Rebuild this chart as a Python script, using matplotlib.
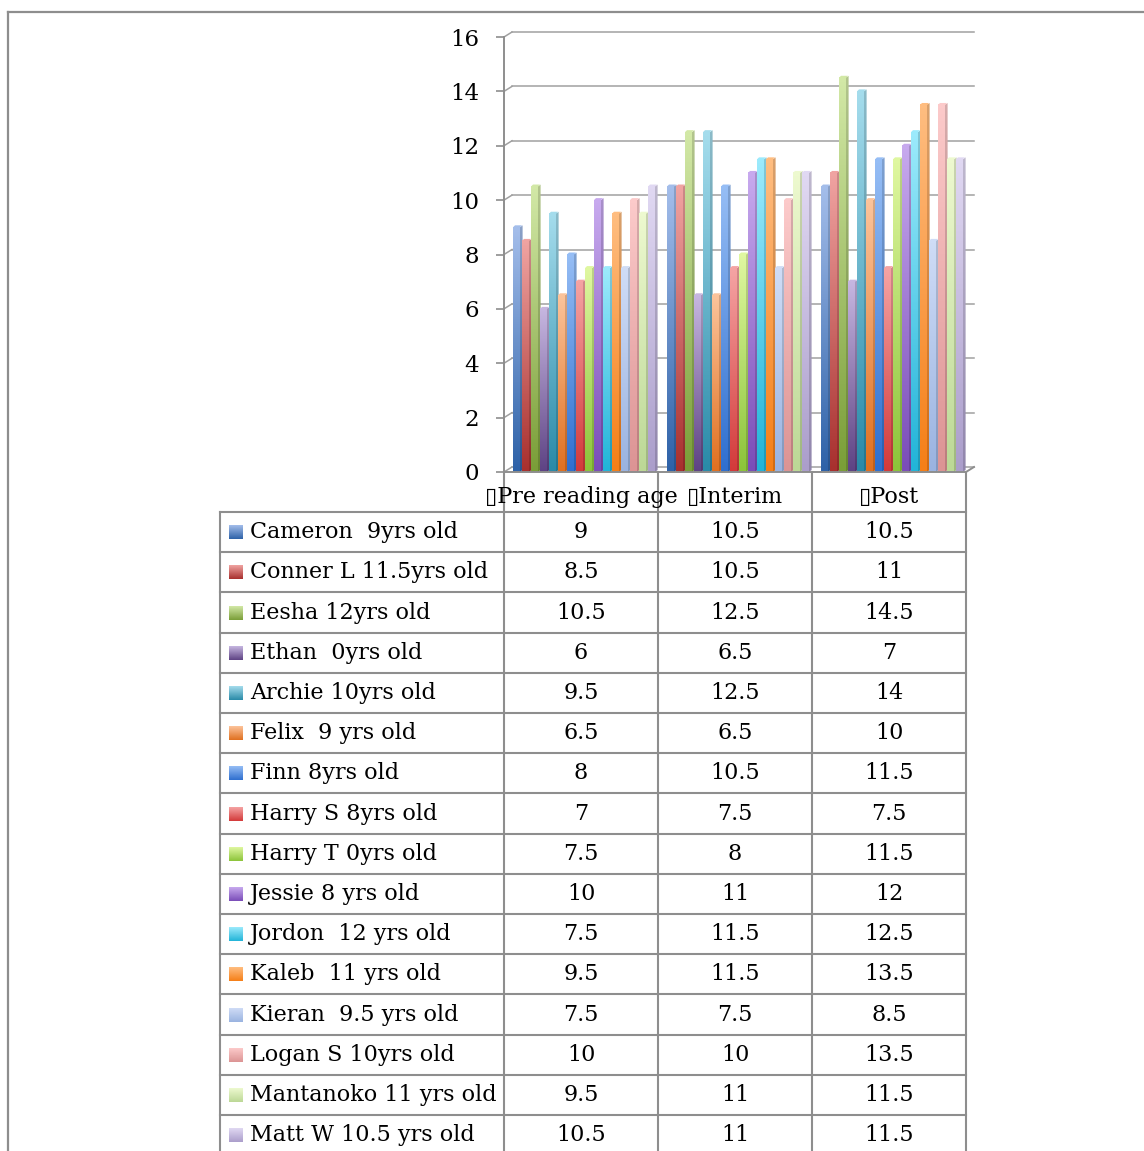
import matplotlib.pyplot as plt
import numpy as np
from matplotlib.colors import LinearSegmentedColormap
from matplotlib.patches import Polygon

plt.rcParams['font.family'] = ['DejaVu Serif', 'DejaVu Sans']

categories = ['Pre reading age', 'Interim', 'Post']
students = ['Cameron  9yrs old', 'Conner L 11.5yrs old', 'Eesha 12yrs old',
            'Ethan  0yrs old', 'Archie 10yrs old', 'Felix  9 yrs old',
            'Finn 8yrs old', 'Harry S 8yrs old', 'Harry T 0yrs old',
            'Jessie 8 yrs old', 'Jordon  12 yrs old', 'Kaleb  11 yrs old',
            'Kieran  9.5 yrs old', 'Logan S 10yrs old', 'Mantanoko 11 yrs old',
            'Matt W 10.5 yrs old']
pre = [9, 8.5, 10.5, 6, 9.5, 6.5, 8, 7, 7.5, 10, 7.5, 9.5, 7.5, 10, 9.5, 10.5]
interim = [10.5, 10.5, 12.5, 6.5, 12.5, 6.5, 10.5, 7.5, 8, 11, 11.5, 11.5, 7.5, 10, 11, 11]
post = [10.5, 11, 14.5, 7, 14, 10, 11.5, 7.5, 11.5, 12, 12.5, 13.5, 8.5, 13.5, 11.5, 11.5]
y_ticks = [0, 2, 4, 6, 8, 10, 12, 14, 16]

# (top, bottom) gradient colours per series
colors = [('#a3bdea', '#2e62a8'), ('#f0a3a1', '#a8302e'), ('#d2e8a6', '#7a9e38'),
          ('#c6b6e0', '#5e4384'), ('#a4dcec', '#2a8aa8'), ('#fcc39a', '#e07020'),
          ('#95bdf5', '#2f6fcf'), ('#f5a3a3', '#d33a3a'), ('#dff7a0', '#8cc43a'),
          ('#c7a9ee', '#7a4db8'), ('#9beafc', '#22b4d8'), ('#ffbd80', '#f57f17'),
          ('#cfdcf6', '#9ab3e0'), ('#fccaca', '#dc9494'), ('#edf9cf', '#bcd896'),
          ('#e0d8f2', '#ab9ecb')]

values = np.array([pre, interim, post])  # shape (3, 16)

W, H = 1144, 1151
fig = plt.figure(figsize=(W / 100, H / 100), dpi=100)
fs = 16

# overlay in pixel coords for frame and data table
tab = fig.add_axes([0, 0, 1, 1], zorder=0)
tab.set_xlim(0, W)
tab.set_ylim(H, 0)
tab.axis('off')

grey = '#8e8e8e'
# outer frame
tab.plot([8, W], [12, 12], color=grey, lw=1.6)
tab.plot([8, 8], [12, H], color=grey, lw=1.6)

# main plot, front plane
x0_px, x1_px, y0_px, y1_px = 504, 966, 472, 37
ax = fig.add_axes([x0_px / W, 1 - y0_px / H, (x1_px - x0_px) / W, (y0_px - y1_px) / H], zorder=2)
ax.patch.set_visible(False)
px_x = 3 / (x1_px - x0_px)       # data units per pixel, x
px_y = 16 / (y0_px - y1_px)      # data units per pixel, y

wall_dx, wall_dy = 8 * px_x, 5 * px_y
grid_c = '#a0a0a0'
for v in y_ticks:
    ax.plot([0, wall_dx], [v, v + wall_dy], color=grid_c, lw=1.1, zorder=1, clip_on=False)
    ax.plot([wall_dx, 3 + wall_dx], [v + wall_dy, v + wall_dy], color=grid_c, lw=1.1,
            zorder=1, clip_on=False)
# floor front edge and right corner
ax.plot([0, 3], [0, 0], color=grey, lw=1.4, zorder=5, clip_on=False)
ax.plot([3, 3 + wall_dx], [0, wall_dy], color=grey, lw=1.4, zorder=5, clip_on=False)

n = len(students)
slot = 9 * px_x
start = 9 * px_x
front_w = 7 * px_x
bdx, bdy = 2 * px_x, 2 * px_y
ov = 0.6 * px_x
grad = np.linspace(0, 1, 64).reshape(-1, 1)


def shade(hexc, f):
    c = np.array(plt.matplotlib.colors.to_rgb(hexc))
    return tuple(np.clip(c * f, 0, 1))


for c in range(len(categories)):
    for s in range(n):
        h = values[c, s]
        xa = c + start + s * slot
        xb = xa + front_w
        top_c, bot_c = colors[s]
        cmap = LinearSegmentedColormap.from_list('g%d' % s, [bot_c, top_c])
        ax.imshow(grad, extent=(xa, xb + ov, 0, h), origin='lower', cmap=cmap,
                  aspect='auto', zorder=3, interpolation='bilinear')
        side = Polygon([(xb, 0), (xb, h), (xb + bdx + ov, h + bdy), (xb + bdx + ov, bdy)],
                       closed=True, facecolor='none', edgecolor='none', zorder=3)
        ax.add_patch(side)
        scmap = LinearSegmentedColormap.from_list('s%d' % s, [shade(bot_c, 0.85), shade(top_c, 0.85)])
        im = ax.imshow(grad, extent=(xb, xb + bdx + ov, 0, h + bdy), origin='lower', cmap=scmap,
                       aspect='auto', zorder=3, interpolation='bilinear')
        im.set_clip_path(side)
        topf = Polygon([(xa, h), (xa + bdx, h + bdy), (xb + bdx, h + bdy), (xb, h)],
                       closed=True, facecolor=top_c, edgecolor='none', zorder=3)
        ax.add_patch(topf)

ax.set_xlim(0, 3)
ax.set_ylim(0, 16)
ax.set_xticks([])
ax.set_yticks(y_ticks)
ax.set_yticklabels([str(t) for t in y_ticks], fontsize=fs + 0.5)
ax.tick_params(axis='y', length=5.8, width=1.2, color=grey, pad=12)
for sp in ['top', 'right', 'bottom']:
    ax.spines[sp].set_visible(False)
ax.spines['left'].set_color(grey)
ax.spines['left'].set_linewidth(1.4)

# data table
col_x = [504, 658, 812, 966]
left_x = 220
row_top = 512
row_h = 40.2
for xc in col_x:
    tab.plot([xc, xc], [472, H], color=grey, lw=1.5)
tab.plot([left_x, left_x], [row_top, H], color=grey, lw=1.5)
for i in range(n):
    yl = row_top + i * row_h
    tab.plot([left_x, col_x[-1]], [yl, yl], color=grey, lw=1.5)

for j, name in enumerate(categories):
    cx = (col_x[j] + col_x[j + 1]) / 2
    tab.text(cx, 497, '\u25af' + name, ha='center', va='center', fontsize=fs)

for i, name in enumerate(students):
    yc = row_top + i * row_h + row_h / 2
    top_c, bot_c = colors[i]
    cmap = LinearSegmentedColormap.from_list('k%d' % i, [bot_c, top_c])
    tab.imshow(grad, extent=(229, 243, yc + 7, yc - 7), origin='lower', cmap=cmap,
               aspect='auto', zorder=3)
    tab.text(250, yc, name, ha='left', va='center', fontsize=fs)
    for j in range(len(categories)):
        cx = (col_x[j] + col_x[j + 1]) / 2
        tab.text(cx, yc, f'{values[j, i]:g}', ha='center', va='center', fontsize=fs)

tab.set_xlim(0, W)
tab.set_ylim(H, 0)

fig.savefig('out.png', dpi=100)
